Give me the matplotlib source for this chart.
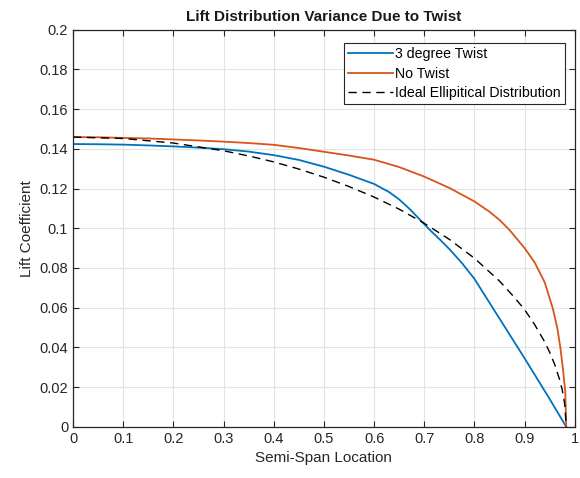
import matplotlib
matplotlib.use("Agg")
import matplotlib.pyplot as plt

plt.rcParams['font.family'] = ['Liberation Sans', 'DejaVu Sans']

# Semi-span locations and lift coefficients
span_twist = [0.0, 0.05, 0.1, 0.15, 0.2, 0.25, 0.3, 0.35, 0.4, 0.45, 0.5, 0.55, 0.6, 0.63, 0.65,
              0.67, 0.69, 0.71, 0.73, 0.75, 0.775, 0.8, 0.85, 0.9, 0.95, 0.983]
cl_twist = [0.1424, 0.1423, 0.1421, 0.1417, 0.1412, 0.1406, 0.1398, 0.1386, 0.1368, 0.1344, 0.1310,
            0.1269, 0.1223, 0.1182, 0.1145, 0.1099, 0.1047, 0.0994, 0.0946, 0.0895, 0.0825, 0.0745,
            0.0545, 0.0345, 0.0140, 0.0]

span_notwist = [0.0, 0.05, 0.1, 0.15, 0.2, 0.25, 0.3, 0.35, 0.4, 0.45, 0.5, 0.55, 0.6, 0.65, 0.7,
                0.75, 0.8, 0.83, 0.85, 0.87, 0.9, 0.92, 0.94, 0.956, 0.965, 0.971, 0.976, 0.981, 0.983]
cl_notwist = [0.1459, 0.1458, 0.1455, 0.1452, 0.1447, 0.1442, 0.1436, 0.1429, 0.1420, 0.1404, 0.1385,
              0.1366, 0.1345, 0.1308, 0.1260, 0.1203, 0.1135, 0.1083, 0.1042, 0.0991, 0.0900, 0.0828,
              0.0728, 0.0598, 0.0500, 0.0404, 0.0300, 0.0180, 0.0]

span_ellip = [0.0, 0.1, 0.2, 0.3, 0.35, 0.4, 0.45, 0.5, 0.55, 0.6, 0.65, 0.7, 0.75, 0.8, 0.85, 0.88,
              0.9, 0.92, 0.94, 0.95, 0.96, 0.97, 0.975, 0.98, 0.983]
cl_ellip = [0.1459, 0.1452, 0.1429, 0.1390, 0.1364, 0.1334, 0.1298, 0.1257, 0.1210, 0.1157, 0.1096,
            0.1025, 0.0944, 0.0849, 0.0734, 0.0651, 0.0590, 0.0515, 0.0428, 0.0375, 0.0314, 0.0236,
            0.0186, 0.0113, 0.0]

labels = ['3 degree Twist', 'No Twist', 'Ideal Ellipitical Distribution']
xticks = [0, 0.1, 0.2, 0.3, 0.4, 0.5, 0.6, 0.7, 0.8, 0.9, 1]
yticks = [0, 0.02, 0.04, 0.06, 0.08, 0.1, 0.12, 0.14, 0.16, 0.18, 0.2]
xtick_labels = ['0', '0.1', '0.2', '0.3', '0.4', '0.5', '0.6', '0.7', '0.8', '0.9', '1']
ytick_labels = ['0', '0.02', '0.04', '0.06', '0.08', '0.1', '0.12', '0.14', '0.16', '0.18', '0.2']

fig = plt.figure(figsize=(5.8, 4.78), dpi=100)
ax = fig.add_axes([0.126, 0.107, 0.865, 0.831])

ax.plot(span_twist, cl_twist, color='#0072BD', lw=1.3, label=labels[0])
ax.plot(span_notwist, cl_notwist, color='#D95319', lw=1.3, label=labels[1])
ax.plot(span_ellip, cl_ellip, color='black', lw=1.0, ls=(0, (6, 4)), label=labels[2])

ax.set_xlim(0, 1)
ax.set_ylim(0, 0.2)
ax.set_xticks(xticks)
ax.set_xticklabels(xtick_labels)
ax.set_yticks(yticks)
ax.set_yticklabels(ytick_labels)
ax.grid(True, color='#e3e3e3', lw=0.8)
ax.set_axisbelow(True)
ax.tick_params(direction='in', top=True, right=True, length=4, width=0.8,
               color='#262626', labelsize=10.5, labelcolor='#262626')
for s in ax.spines.values():
    s.set_color('#262626')
    s.set_linewidth(0.9)

ax.set_title('Lift Distribution Variance Due to Twist', fontsize=11, fontweight='bold', color='#1a1a1a', pad=6)
ax.set_xlabel('Semi-Span Location', fontsize=11, color='#262626')
ax.set_ylabel('Lift Coefficient', fontsize=11, color='#262626')

leg = ax.legend(loc='upper right', fontsize=10.2, handlelength=3.2, handletextpad=0.1,
                fancybox=False, framealpha=1, edgecolor='#262626',
                bbox_to_anchor=(0.98, 0.966), borderaxespad=0.0,
                labelspacing=0.38, borderpad=0.3)
leg.get_frame().set_linewidth(0.8)

fig.savefig('out.png', dpi=100)
